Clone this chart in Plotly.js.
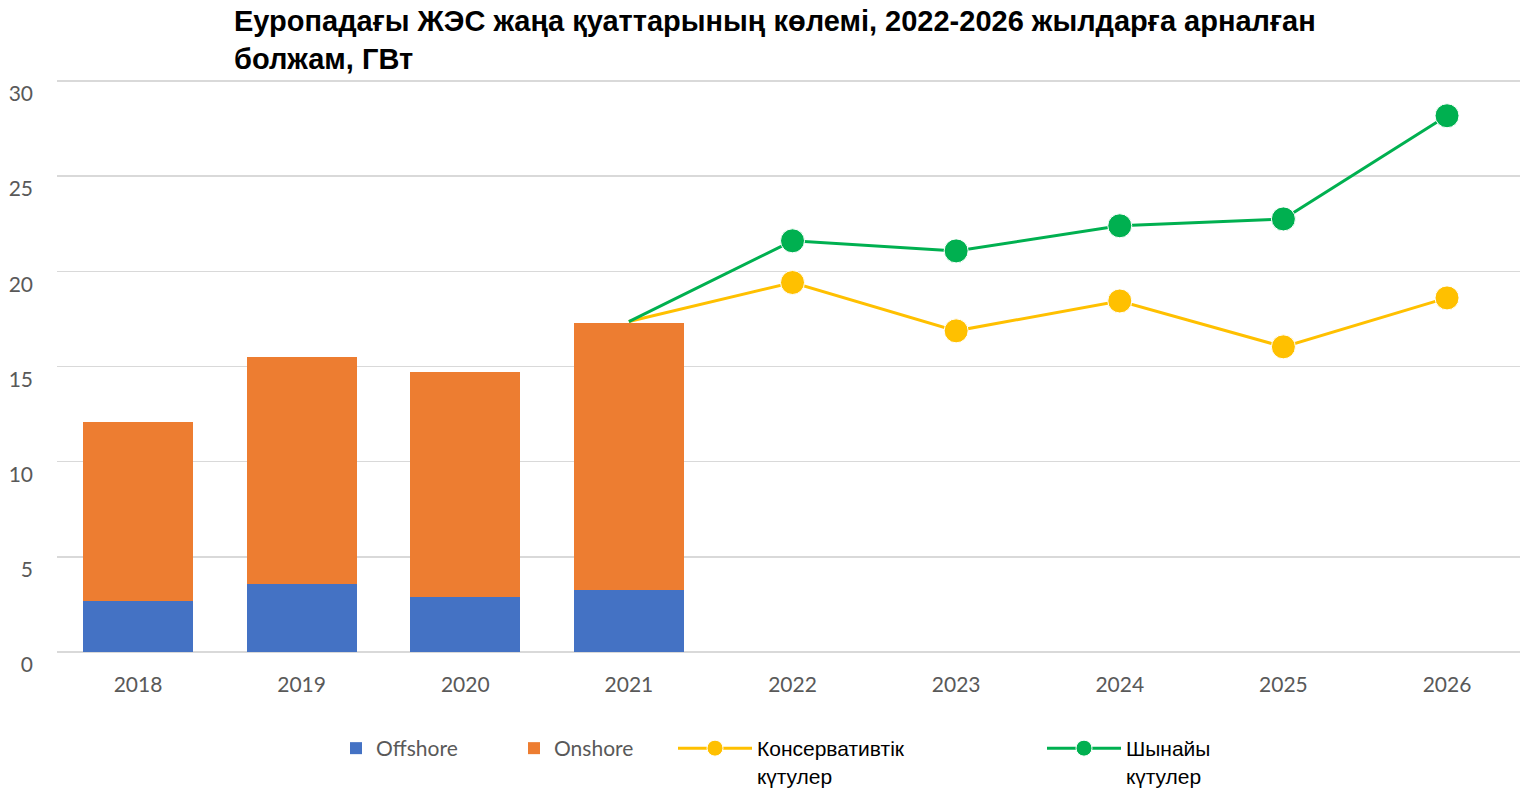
<!DOCTYPE html>
<html>
<head>
<meta charset="utf-8">
<script src="https://cdn.plot.ly/plotly-3.0.1.min.js"></script>
<style>html,body{margin:0;padding:0;background:#fff;}#chart{width:1520px;height:792px;}</style>
</head>
<body>
<div id="chart"></div>
<script>
var barYears = ["2018", "2019", "2020", "2021"];
var offshore = [2.68, 3.57, 2.89, 3.26];
var onshore = [9.41, 11.93, 11.82, 14.03];
var lineYears = ["2021", "2022", "2023", "2024", "2025", "2026"];
var conservative = [17.36, 19.41, 16.87, 18.44, 16.03, 18.6];
var realistic = [17.36, 21.6, 21.07, 22.39, 22.75, 28.17];
var seriesNames = ["Offshore", "Onshore", "Консервативтік<br>күтулер", "Шынайы<br>күтулер"];
var yTicks = [0, 5, 10, 15, 20, 25, 30];
var titleText = "Еуропадағы ЖЭС жаңа қуаттарының көлемі, 2022-2026 жылдарға арналған<br>болжам, ГВт";

var msz = lineYears.map(function (y, i) { return i === 0 ? 0 : 24; });

var traces = [
  {type: "bar", x: barYears, y: offshore, name: seriesNames[0], marker: {color: "#4472C4"}, legend: "legend"},
  {type: "bar", x: barYears, y: onshore, name: seriesNames[1], marker: {color: "#ED7D31"}, legend: "legend"},
  {type: "scatter", mode: "lines+markers", x: lineYears, y: conservative, name: seriesNames[2],
   line: {color: "#FFC000", width: 3}, marker: {color: "#FFC000", size: msz, opacity: 1}, legend: "legend2"},
  {type: "scatter", mode: "lines+markers", x: lineYears, y: realistic, name: seriesNames[3],
   line: {color: "#00B050", width: 3}, marker: {color: "#00B050", size: msz, opacity: 1}, legend: "legend3"}
];

var legendTop = 1 - 728 / 792;
var layout = {
  width: 1520, height: 792,
  margin: {l: 57, r: 0, t: 79, b: 140, autoexpand: false},
  paper_bgcolor: "#fff", plot_bgcolor: "#fff",
  barmode: "stack", bargap: 0.328,
  title: {text: titleText, x: 234 / 1520, xref: "container", xanchor: "left",
          y: 1 - 31 / 792, yref: "container", yanchor: "top",
          font: {family: "Liberation Sans, Arial, sans-serif", size: 29, color: "#000", weight: "bold"}},
  xaxis: {type: "category", range: [-0.495, 8.446], showgrid: false, zeroline: false,
          showline: false, ticks: "", ticklabelstandoff: 18,
          tickfont: {family: "Lato, sans-serif", size: 21, color: "#595959"}},
  yaxis: {range: [0, 30.1], tickvals: yTicks, showgrid: true, gridcolor: "#d9d9d9", gridwidth: 1.5,
          zeroline: true, zerolinecolor: "#d9d9d9", zerolinewidth: 1.5, showline: false, ticks: "",
          ticklabelstandoff: 23, ticklabelshift: 13,
          tickfont: {family: "Lato, sans-serif", size: 21, color: "#595959"}},
  showlegend: true,
  legend: {orientation: "h", x: 336 / 1520, xref: "container", xanchor: "left",
           y: legendTop, yref: "container", yanchor: "top",
           entrywidth: 133, traceorder: "normal", valign: "top",
           font: {family: "Lato, sans-serif", size: 21, color: "#595959"}},
  legend2: {orientation: "h", x: 673 / 1520, xref: "container", xanchor: "left",
           y: legendTop, yref: "container", yanchor: "top", valign: "top", itemwidth: 74,
           font: {family: "Liberation Sans, Arial, sans-serif", size: 21, color: "#000"}},
  legend3: {orientation: "h", x: 1042 / 1520, xref: "container", xanchor: "left",
           y: legendTop, yref: "container", yanchor: "top", valign: "top", itemwidth: 74,
           font: {family: "Liberation Sans, Arial, sans-serif", size: 21, color: "#000"}}
};

Plotly.newPlot("chart", traces, layout, {displayModeBar: false, staticPlot: true});
</script>
</body>
</html>
